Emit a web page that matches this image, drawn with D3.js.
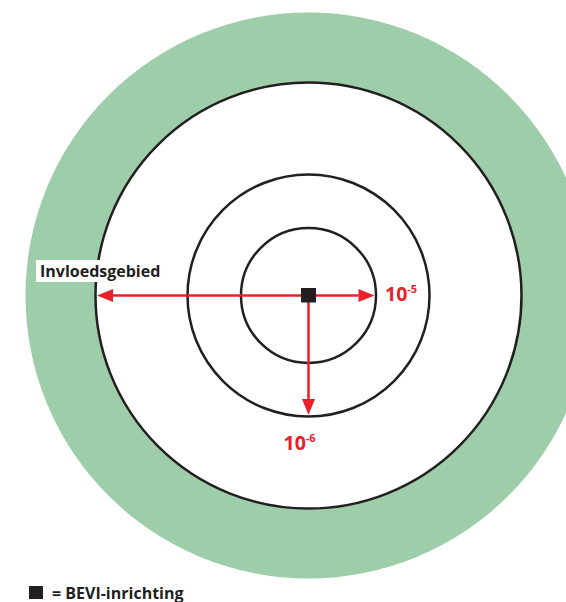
<!DOCTYPE html>
<html>
<head>
<meta charset="utf-8">
<script src="https://cdn.jsdelivr.net/npm/d3@7"></script>
<style>
  body { margin: 0; background: #fff; }
  svg { display: block; }
  text { font-family: "Open Sans", "Noto Sans", sans-serif; font-weight: 700; }
</style>
</head>
<body>
<svg id="chart"></svg>
<script>
// contour data (radius in px-units)
const ringNames = ["10-5", "10-6", "plasbrand", "invloedsgebied"];
const ringRadii = [67.5, 121, 213, 283];
const arrowTargets = [
  { ring: "10-5", angle: 0 },        // right
  { ring: "10-6", angle: 90 },       // down
  { ring: "plasbrand", angle: 180 }  // left
];
const legendText = "= BEVI-inrichting";
const areaLabel = "Invloedsgebied";

const width = 566, height = 602;
const cx = 308.5, cy = 295.5;
const green = "#9ecda9", red = "#e8202a", ink = "#231f20";

const r = d3.scaleLinear().domain([0, 283]).range([0, 283]);
const radiusOf = name => r(ringRadii[ringNames.indexOf(name)]);

const svg = d3.select("#chart").attr("width", width).attr("height", height);
const g = svg.append("g").attr("transform", `translate(${cx},${cy})`);

// green zone
g.append("circle").attr("r", radiusOf("invloedsgebied")).attr("fill", green);

// contours, big to small
g.selectAll("circle.ring")
  .data(ringNames.slice(0, 3).reverse())
  .join("circle")
    .attr("class", "ring")
    .attr("r", d => radiusOf(d))
    .attr("fill", (d, i) => i === 0 ? "#fff" : "none")
    .attr("stroke", ink)
    .attr("stroke-width", 2.5);

// arrows
const headLen = 16, headHalf = 6.5;
const arrows = g.append("g");
arrowTargets.forEach(a => {
  const t = a.angle * Math.PI / 180;
  const len = radiusOf(a.ring) - 1.5;
  const dx = Math.cos(t), dy = Math.sin(t);
  const tip = [dx * len, dy * len];
  const base = [dx * (len - headLen), dy * (len - headLen)];
  arrows.append("line")
    .attr("x1", 0).attr("y1", 0)
    .attr("x2", base[0]).attr("y2", base[1])
    .attr("stroke", red).attr("stroke-width", 2.5);
  arrows.append("path")
    .attr("d", d3.line()([
      tip,
      [base[0] - dy * headHalf, base[1] + dx * headHalf],
      [base[0] + dy * headHalf, base[1] - dx * headHalf]
    ]) + "Z")
    .attr("fill", red);
});

// source square
g.append("rect").attr("x", -7.5).attr("y", -7.5).attr("width", 15).attr("height", 14.5).attr("fill", ink);

// labels 10^-5 and 10^-6
function power(sel, exp) {
  sel.append("tspan").text("10");
  sel.append("tspan").attr("dy", -8).attr("font-size", 11).text("-" + exp);
}
g.append("text")
  .attr("x", radiusOf("10-5") + 9).attr("y", 5)
  .attr("font-size", 19.5).attr("fill", red)
  .call(power, 5);
g.append("text")
  .attr("x", -25).attr("y", radiusOf("10-6") + 33)
  .attr("font-size", 19.5).attr("fill", red)
  .call(power, 6);

// Invloedsgebied label with white box
svg.append("rect").attr("x", 36).attr("y", 260).attr("width", 126).attr("height", 22).attr("fill", "#fff");
svg.append("text")
  .attr("x", 40).attr("y", 276.5)
  .attr("font-size", 16).attr("fill", ink)
  .text(areaLabel);

// legend
svg.append("rect").attr("x", 29).attr("y", 586).attr("width", 14).attr("height", 13).attr("fill", ink);
svg.append("text")
  .attr("x", 52).attr("y", 598.5)
  .attr("font-size", 16).attr("fill", ink)
  .text(legendText);
</script>
</body>
</html>
